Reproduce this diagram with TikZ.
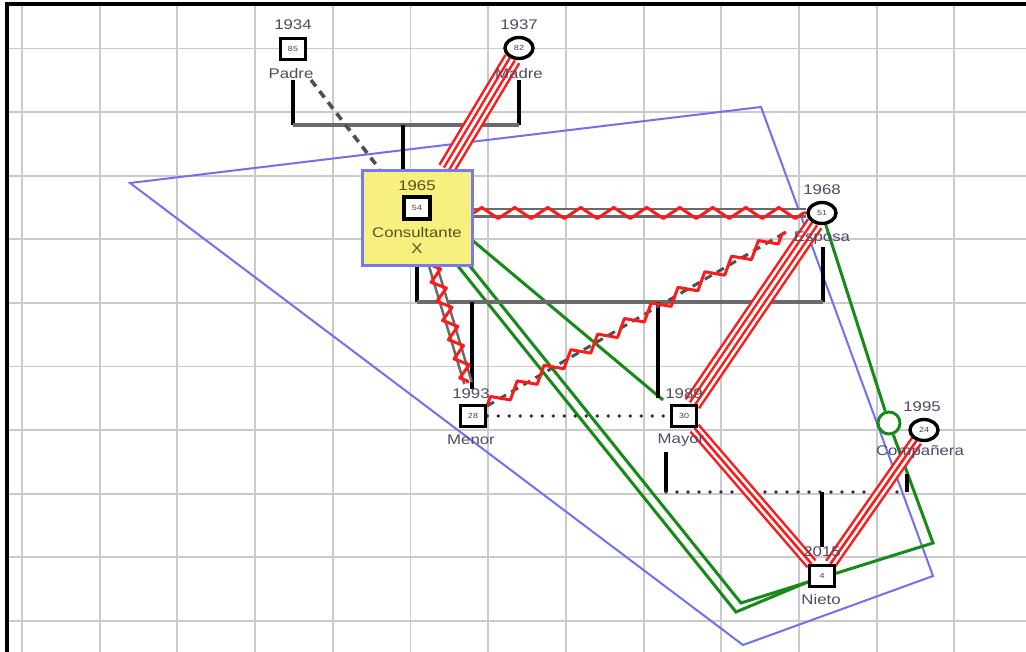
\documentclass[tikz,border=0pt]{standalone}
\usepackage{fontspec}
\setmainfont{Liberation Sans}[FakeStretch=1.2]
\usetikzlibrary{shapes.geometric,decorations.pathmorphing}
\pgfdeclarelayer{back}
\pgfdeclarelayer{edges}
\pgfsetlayers{back,edges,main}
\definecolor{gridc}{HTML}{CACACA}
\definecolor{labc}{HTML}{4C4C64}
\definecolor{numc}{HTML}{444444}
\definecolor{bluep}{HTML}{7070F0}
\definecolor{greenl}{HTML}{188A18}
\definecolor{redl}{HTML}{FF1A1A}
\definecolor{consy}{HTML}{F8F07E}
\definecolor{consb}{HTML}{7878F0}
\definecolor{olivet}{HTML}{55531C}
\definecolor{hgray}{HTML}{6A6A6A}
\definecolor{dotc}{HTML}{2E2E2E}
\definecolor{dashc}{HTML}{505050}
\tikzset{
  lab/.style={font=\fontsize{14}{15}\selectfont, text=labc, inner sep=0pt},
  num/.style={font=\fontsize{7.5}{8}\selectfont, text=numc},
  sq/.style={rectangle, draw=black, line width=3.4pt, fill=white, minimum width=25pt, minimum height=21pt, inner sep=0pt, num},
  ov/.style={ellipse, draw=black, line width=3.4pt, fill=white, minimum width=28pt, minimum height=21pt, inner sep=0pt, num},
  gridl/.style={draw=gridc, line width=1.9pt},
  mline/.style={draw=black, line width=3.4pt},
  hline/.style={draw=hgray, line width=3.2pt},
  dotl/.style={draw=dotc, line width=3.6pt, line cap=round, dash pattern=on 0pt off 11pt},
  dashl/.style={draw=dashc, line width=3.6pt, dash pattern=on 8pt off 6pt},
  gline/.style={draw=greenl, line width=3pt, line join=miter},
  band4/.style={draw=white, line width=3pt,
     preaction={draw=redl, line width=18.5pt},
     preaction={draw=white, line width=13.5pt},
     preaction={draw=redl, line width=8pt}},
  band3/.style={draw=redl, line width=2.6pt,
     preaction={draw=redl, line width=13pt},
     preaction={draw=white, line width=8pt}},
  gdouble/.style={draw=hgray, line width=2.6pt, double=white, double distance=5pt},
  zig/.style={draw=redl, line width=3pt, line join=round, decorate},
  bluel/.style={draw=bluep, line width=2pt, line join=miter}
}
\begin{document}
\begin{tikzpicture}[x=1pt,y=-1pt]
\useasboundingbox (0,0) rectangle (1026,652);

% ---------- nodes ----------
\node[sq] (padre) at (293,49) {85};
\node[lab] (padreY) at (293,25) {1934};
\node[lab] (padreN) at (291,73) {Padre};

\node[ov] (madre) at (519,48) {82};
\node[lab] (madreY) at (519,25) {1937};
\node[lab] (madreN) at (519,73) {Madre};

\node[rectangle, draw=consb, fill=consy, line width=3pt, minimum width=110pt, minimum height=95pt, inner sep=0pt] (cons) at (417,218) {};
\node[lab, text=olivet] (consY) at (417,186) {1965};
\node[sq, minimum width=26pt, minimum height=22pt] (consSq) at (417,208) {54};
\node[lab, text=olivet] (consN) at (417,232) {Consultante};
\node[lab, text=olivet] (consX) at (417,249) {X};

\node[ov] (esposa) at (822,213) {51};
\node[lab] (esposaY) at (822,190) {1968};
\node[lab] (esposaN) at (822,238) {Esposa};

\node[sq] (menor) at (473,416) {28};
\node[lab] (menorY) at (471,394) {1993};
\node[lab] (menorN) at (471,440) {Menor};

\node[sq] (mayor) at (684,416) {30};
\node[lab] (mayorY) at (684,394) {1989};
\node[lab] (mayorN) at (681,440) {Mayor};

\node[ov] (comp) at (924,430) {24};
\node[lab] (compY) at (922,407) {1995};
\node[lab] (compN) at (920,452) {Compañera};

\node[sq] (nieto) at (822,576) {4};
\node[lab] (nietoY) at (822,552) {2015};
\node[lab] (nietoN) at (821,599) {Nieto};

\node[circle, draw=greenl, line width=3pt, fill=white, minimum size=22pt, inner sep=0pt] (gcirc) at (889,423) {};

% ---------- background ----------
\begin{pgfonlayer}{back}
\fill[white] (0,0) rectangle (1026,652);
\foreach \i in {0,...,12} \draw[gridl] ({22+77.7*\i},4) -- ++(0,648);
\foreach \j in {0,...,9} \draw[gridl] (7,{48.5+63.6*\j}) -- ++(1019,0);
\draw[black, line width=3.5pt] (7,652) -- (7,4) -- (1026,4);
\end{pgfonlayer}

% ---------- connectors ----------
\begin{pgfonlayer}{edges}
% blue polygon
\draw[bluel] (130,183) -- (761,107) -- (933,576) -- (743,645) -- cycle;

% green lines
\coordinate (gA1) at (472,240);
\coordinate (gA2) at (663,400);
\draw[gline] (gA1) -- (gA2);
\coordinate (gL1) at (453,260);
\coordinate (gL2) at (736,612);
\draw[gline] (gL1) -- (gL2) -- (nieto);
\coordinate (gR1) at (465,260);
\coordinate (gR2) at (741,603);
\coordinate (gR3) at (933,543);
\draw[gline] (gR1) -- (gR2) -- (gR3) -- (gcirc);
\draw[gline] (esposa) -- (gcirc);

% Padre - Madre union
\coordinate (pm1) at (293,80);
\coordinate (pm2) at (293,125);
\coordinate (pm3) at (519,125);
\coordinate (pm4) at (519,80);
\coordinate (pmc) at (403,125);
\draw[mline] (pm1) -- (pm2);
\draw[mline] (pm3) -- (pm4);
\draw[hline] (pm2) -- (pm3);
\draw[mline] (pmc) -- (cons.north -| pmc);

% Padre - Consultante dashed
\coordinate (pd1) at (311,80);
\draw[dashl] (pd1) -- (cons);

% Consultante - Esposa union
\coordinate (ce1) at (417,302);
\coordinate (ce2) at (823,302);
\coordinate (ce3) at (823,247);
\draw[mline] (cons.south) -- (ce1);
\draw[mline] (ce2) -- (ce3);
\draw[hline] (ce1) -- (ce2);
\coordinate (chm) at (472,302);
\coordinate (chy) at (658,302);
\coordinate (chy2) at (658,398);
\draw[mline] (chm) -- (menorY.north -| chm);
\draw[mline] (chy) -- (chy2);

% Mayor - Companera union
\coordinate (mc1) at (666,452);
\coordinate (mc2) at (666,492);
\coordinate (mc3) at (907,492);
\coordinate (mc4) at (907,474);
\coordinate (mcc) at (822,492);
\draw[mline] (mc1) -- (mc2);
\draw[mline] (mc3) -- (mc4);
\draw[dotl] (mc2) -- (mc3);
\draw[mline] (mcc) -- (nietoY.north -| mcc);

% siblings dotted
\draw[dotl] (menor) -- (mayor);

% Consultante - Esposa (double + zigzag)
\draw[gdouble] (cons.east |- esposa) -- (esposa);
\draw[zig, decoration={zigzag, amplitude=5.5pt, segment length=33pt}] (cons.east |- esposa) -- (esposa);

% Consultante - Menor (double + zigzag)
\coordinate (cm1) at (433,266);
\coordinate (cm2) at (468,383);
\draw[gdouble] (cm1) -- (cm2);
\draw[zig, decoration={zigzag, amplitude=6.5pt, segment length=20pt}] (cm1) -- (cm2);

% Menor - Esposa (dashed + zigzag)
\coordinate (me1) at (487,406);
\coordinate (me2) at (786,232);
\draw[dashl, line width=3pt] (me1) -- (me2);
\draw[zig, decoration={zigzag, amplitude=6.5pt, segment length=31pt}] (me1) -- (me2);

% red bands
\draw[band4] (madre) -- (cons);
\draw[band4] (mayor) -- (esposa);
\draw[band3] (mayor) -- (nieto);
\draw[band3] (comp) -- (nieto);
\end{pgfonlayer}
\end{tikzpicture}
\end{document}
